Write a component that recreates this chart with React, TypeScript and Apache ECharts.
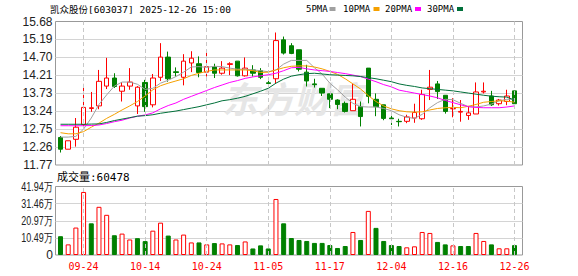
import React, { useEffect, useRef } from 'react';
import * as echarts from 'echarts';

const dates = [
  '09-19', '09-22', '09-23', '09-24', '09-25', '09-26', '09-29', '09-30', '10-09', '10-10',
  '10-13', '10-14', '10-15', '10-16', '10-17', '10-20', '10-21', '10-22', '10-23', '10-24',
  '10-27', '10-28', '10-29', '10-30', '10-31', '11-03', '11-04', '11-05', '11-06', '11-07',
  '11-10', '11-11', '11-12', '11-13', '11-14', '11-17', '11-18', '11-19', '11-20', '11-21',
  '12-01', '12-02', '12-03', '12-04', '12-05', '12-08', '12-09', '12-10', '12-11', '12-12',
  '12-15', '12-16', '12-17', '12-18', '12-19', '12-22', '12-23', '12-24', '12-25', '12-26',
];

const opens = [
  12.52, 12.20, 12.47, 12.87, 13.31, 13.38, 13.92, 14.14, 13.78, 13.92,
  13.38, 14.02, 13.41, 14.16, 14.71, 14.31, 14.16, 14.55, 14.53, 14.30,
  14.44, 14.27, 14.51, 14.60, 14.20, 14.36, 14.34, 14.01, 14.12, 15.18,
  15.02, 14.91, 14.30, 13.98, 13.86, 13.71, 13.54, 13.45, 13.25, 13.36,
  14.41, 13.56, 13.41, 13.05, 12.96, 12.96, 13.05, 13.03, 13.83, 13.98,
  13.67, 13.30, 13.21, 13.12, 13.16, 13.76, 13.65, 13.44, 13.50, 13.79,
];
const closes = [
  12.20, 12.43, 12.80, 13.34, 13.33, 14.05, 14.14, 13.91, 13.92, 14.03,
  13.89, 13.36, 14.14, 14.71, 14.12, 14.29, 14.60, 14.68, 14.29, 14.45,
  14.27, 14.41, 14.53, 14.20, 14.41, 14.27, 14.16, 13.99, 15.16, 14.82,
  14.81, 14.38, 14.06, 13.96, 13.73, 13.56, 13.42, 13.23, 13.56, 13.09,
  13.64, 13.36, 13.04, 13.03, 12.95, 13.08, 13.20, 13.69, 13.89, 13.77,
  13.23, 13.31, 13.23, 13.19, 13.76, 13.78, 13.41, 13.54, 13.65, 13.44,
];
const lows = [
  12.11, 12.20, 12.27, 12.80, 13.22, 13.29, 13.84, 13.87, 13.50, 13.82,
  13.16, 13.22, 13.34, 14.06, 14.04, 14.18, 13.94, 14.30, 14.16, 14.18,
  14.14, 14.23, 14.22, 14.18, 14.18, 14.18, 14.11, 13.95, 13.98, 14.78,
  14.79, 14.32, 13.91, 13.88, 13.65, 13.32, 13.29, 13.20, 13.25, 12.82,
  13.45, 13.10, 12.99, 12.86, 12.82, 12.91, 12.92, 13.00, 13.54, 13.57,
  13.17, 13.07, 12.95, 13.00, 13.16, 13.72, 13.38, 13.39, 13.40, 13.44,
];
const highs = [
  12.56, 12.43, 13.05, 13.98, 13.76, 14.36, 14.69, 14.27, 14.03, 14.41,
  13.92, 14.09, 14.25, 15.09, 14.86, 14.43, 14.79, 14.87, 14.73, 14.87,
  14.53, 14.60, 14.57, 14.60, 14.70, 14.49, 14.41, 14.16, 15.38, 15.27,
  15.09, 14.91, 14.50, 14.12, 13.86, 13.71, 13.56, 13.50, 13.98, 13.50,
  14.41, 13.72, 13.41, 13.11, 13.03, 13.14, 13.44, 13.82, 14.36, 14.06,
  13.67, 13.59, 13.54, 13.38, 14.02, 14.02, 13.79, 13.57, 13.82, 13.79,
];

// volume, in 万 (10k shares)
const volumes = [
  11.5, 6.5, 16.8, 38.6, 19.4, 29.5, 24.6, 12.1, 13.1, 9.5,
  10.3, 8.5, 14.9, 19.8, 11.9, 9.5, 12.5, 7.7, 7.7, 6.5,
  7.3, 7.1, 6.5, 6.1, 8.3, 4.0, 5.9, 4.0, 34.3, 19.4,
  10.4, 9.2, 8.6, 7.4, 7.4, 6.1, 4.3, 5.5, 14.1, 9.2,
  27.0, 16.6, 8.6, 6.1, 5.5, 4.7, 5.3, 14.1, 13.5, 8.0,
  6.5, 5.9, 5.5, 5.5, 13.5, 8.6, 6.5, 4.1, 4.1, 6.0478,
];

const ma5 = [
  12.53, 12.53, 12.55, 12.75, 13.05, 13.42, 13.68, 13.92, 14.03, 14.03,
  13.97, 13.83, 13.86, 14.00, 14.08, 14.18, 14.30, 14.44, 14.45, 14.43,
  14.46, 14.45, 14.41, 14.38, 14.38, 14.36, 14.34, 14.31, 14.36, 14.52,
  14.62, 14.62, 14.62, 14.42, 14.25, 14.00, 13.82, 13.62, 13.45, 13.36,
  13.35, 13.35, 13.31, 13.25, 13.14, 13.07, 13.04, 13.15, 13.33, 13.47,
  13.56, 13.55, 13.45, 13.36, 13.35, 13.38, 13.43, 13.52, 13.56, 13.56,
];
const ma10 = [
  12.65, 12.62, 12.62, 12.68, 12.80, 12.91, 13.04, 13.15, 13.27, 13.38,
  13.50, 13.65, 13.82, 13.93, 14.00, 14.06, 14.12, 14.21, 14.27, 14.32,
  14.36, 14.36, 14.36, 14.36, 14.36, 14.34, 14.29, 14.30, 14.36, 14.42,
  14.46, 14.47, 14.47, 14.44, 14.39, 14.32, 14.24, 14.12, 13.98, 13.84,
  13.66, 13.50, 13.38, 13.30, 13.25, 13.22, 13.21, 13.22, 13.27, 13.31,
  13.33, 13.34, 13.33, 13.37, 13.42, 13.48, 13.50, 13.52, 13.51, 13.48,
];
const ma20 = [
  12.84, 12.84, 12.84, 12.84, 12.845, 12.86, 12.90, 12.95, 12.99, 13.05,
  13.10, 13.135, 13.19, 13.30, 13.39, 13.46, 13.56, 13.64, 13.72, 13.80,
  13.88, 13.95, 14.02, 14.07, 14.13, 14.17, 14.20, 14.23, 14.27, 14.34,
  14.42, 14.43, 14.39, 14.36, 14.34, 14.32, 14.29, 14.26, 14.22, 14.18,
  14.11, 14.04, 13.96, 13.90, 13.81, 13.77, 13.73, 13.69, 13.65, 13.60,
  13.53, 13.47, 13.41, 13.36, 13.34, 13.33, 13.33, 13.33, 13.35, 13.38,
];
const ma30 = [
  12.88, 12.88, 12.88, 12.88, 12.885, 12.89, 12.93, 12.98, 13.02, 13.06,
  13.10, 13.115, 13.14, 13.18, 13.21, 13.24, 13.28, 13.32, 13.36, 13.41,
  13.46, 13.52, 13.55, 13.59, 13.64, 13.71, 13.78, 13.86, 14.00, 14.11,
  14.19, 14.23, 14.26, 14.27, 14.25, 14.23, 14.22, 14.21, 14.20, 14.18,
  14.15, 14.12, 14.08, 14.04, 13.98, 13.94, 13.91, 13.87, 13.85, 13.83,
  13.81, 13.79, 13.76, 13.73, 13.70, 13.67, 13.645, 13.63, 13.62, 13.54,
];

const priceTicks = ['11.77', '12.26', '12.75', '13.24', '13.73', '14.21', '14.70', '15.19', '15.68'];
const priceMin = 11.77;
const priceMax = 15.68;
const volTicks = ['0', '10.49万', '20.97万', '31.46万', '41.94万'];
const volMax = 41.94;
const labelDates = ['09-24', '10-14', '10-24', '11-05', '11-17', '12-04', '12-16', '12-26'];
const titleText = '凯众股份[603037] 2025-12-26 15:00';
const volTitleText = '成交量:60478';
const maNames = ['5PMA', '10PMA', '20PMA', '30PMA'];
const maColors = ['#a0a0a0', '#f5a000', '#ff00ff', '#00703a'];
const watermarkText = '东方财富';

const UP = '#ff0000';
const DOWN = '#008000';

// layout
const FL = 55.5;
const FW = 467;
const MT = 21.5;
const MH = 143.5;
const VT = 186.5;
const VH = 68.5;
const SLOT = 7.695;
const DL = 60.5 - SLOT / 2;
const DW = SLOT * dates.length;

const MONO = '"DejaVu Sans Mono", "Noto Sans CJK SC", monospace';
const SANS = '"Liberation Sans", Arial, sans-serif';

export default function App() {
  const ref = useRef<HTMLDivElement>(null);

  useEffect(() => {
    if (!ref.current) return;
    const chart = echarts.init(ref.current, null, { renderer: 'svg' });

    const maSeries = [ma5, ma10, ma20, ma30].map((d, k) => ({
      name: maNames[k],
      type: 'line',
      xAxisIndex: 1,
      yAxisIndex: 1,
      data: d,
      showSymbol: false,
      symbol: 'none',
      smooth: false,
      lineStyle: { width: 1, color: maColors[k] },
      itemStyle: { color: maColors[k] },
      z: 3,
      silent: true,
    }));

    const markLineCfg = {
      symbol: ['none', 'none'],
      silent: true,
      label: { show: false },
      lineStyle: { type: [4, 3], color: '#c8c8c8', width: 1 },
      emphasis: { disabled: true },
      data: labelDates.map((d) => ({ xAxis: d })),
    };

    const volData = volumes.map((v, i) => {
      const up = i > 0 && closes[i] > closes[i - 1];
      return {
        value: v,
        itemStyle: up
          ? { color: '#ffffff', borderColor: UP, borderWidth: 1 }
          : { color: DOWN, borderColor: DOWN, borderWidth: 1 },
      };
    });

    const graphics: any[] = [
      {
        type: 'text',
        x: 222,
        y: 97,
        z: 1,
        silent: true,
        style: {
          text: watermarkText,
          fontSize: 36,
          fontWeight: 'bold',
          fontStyle: 'italic',
          fontFamily: '"Noto Sans CJK SC", sans-serif',
          fill: '#e6e6e6',
          textVerticalAlign: 'middle',
        },
      },
      {
        type: 'text',
        x: 50,
        y: 9,
        z: 10,
        style: {
          text: titleText,
          fontSize: 9.5,
          fontFamily: MONO,
          fill: '#000',
          textVerticalAlign: 'middle',
        },
      },
      {
        type: 'text',
        x: 57,
        y: 177.5,
        z: 10,
        style: {
          text: volTitleText,
          fontSize: 11,
          fontFamily: MONO,
          fill: '#000',
          textVerticalAlign: 'middle',
        },
      },
    ];

    const legendX = [306, 343, 385, 427];
    const legendBoxX = [329.5, 373.5, 415, 457];
    maNames.forEach((n, k) => {
      graphics.push({
        type: 'text',
        x: legendX[k],
        y: 9,
        z: 10,
        style: { text: n, fontSize: 9, fontFamily: MONO, fill: '#000', textVerticalAlign: 'middle' },
      });
      graphics.push({
        type: 'rect',
        x: legendBoxX[k],
        y: 7,
        z: 10,
        shape: { width: 6, height: 4 },
        style: { fill: maColors[k] },
      });
    });

    volTicks.forEach((t, k) => {
      graphics.push({
        type: 'text',
        x: 53,
        y: VT + VH * (1 - k / (volTicks.length - 1)),
        z: 10,
        scaleX: k === 0 ? 1 : 0.75,
        style: {
          text: t,
          fontSize: 12,
          fontFamily: SANS,
          fill: '#222',
          textAlign: 'right',
          textVerticalAlign: 'middle',
        },
      });
    });

    const option: any = {
      animation: false,
      backgroundColor: '#ffffff',
      grid: [
        { left: FL, top: MT, width: FW, height: MH, show: true, borderColor: '#999', borderWidth: 1, backgroundColor: 'transparent', containLabel: false, outerBoundsMode: 'none' },
        { left: DL, top: MT, width: DW, height: MH, containLabel: false, outerBoundsMode: 'none' },
        { left: FL, top: VT, width: FW, height: VH, show: true, borderColor: '#999', borderWidth: 1, backgroundColor: 'transparent', containLabel: false, outerBoundsMode: 'none' },
        { left: DL, top: VT, width: DW, height: VH, containLabel: false, outerBoundsMode: 'none' },
      ],
      xAxis: [
        { gridIndex: 0, type: 'value', min: 0, max: 1, show: false },
        { gridIndex: 1, type: 'category', data: dates, boundaryGap: true, show: false },
        { gridIndex: 2, type: 'value', min: 0, max: 1, show: false },
        {
          gridIndex: 3,
          type: 'category',
          data: dates,
          boundaryGap: true,
          axisLine: { show: false },
          axisTick: { show: false },
          splitLine: { show: false },
          axisLabel: {
            interval: (i: number) => labelDates.includes(dates[i]),
            color: '#ff0000',
            fontFamily: MONO,
            fontSize: 10,
            margin: 6,
            hideOverlap: false,
          },
        },
      ],
      yAxis: [
        {
          gridIndex: 0,
          type: 'value',
          min: 0,
          max: priceTicks.length - 1,
          interval: 1,
          axisLine: { show: false },
          axisTick: { show: false },
          axisLabel: {
            formatter: (v: number) => priceTicks[Math.round(v)],
            fontSize: 12,
            fontFamily: SANS,
            color: '#222',
            margin: 3,
          },
          splitLine: { show: true, showMinLine: false, showMaxLine: false, lineStyle: { color: '#d4d4d4', width: 1 } },
        },
        { gridIndex: 1, type: 'value', min: priceMin, max: priceMax, show: false, splitLine: { show: false } },
        {
          gridIndex: 2,
          type: 'value',
          min: 0,
          max: volTicks.length - 1,
          interval: 1,
          axisLine: { show: false },
          axisTick: { show: false },
          axisLabel: { show: false },
          splitLine: { show: true, showMinLine: false, showMaxLine: false, lineStyle: { color: '#d4d4d4', width: 1 } },
        },
        { gridIndex: 3, type: 'value', min: 0, max: volMax, show: false, splitLine: { show: false } },
      ],
      series: [
        {
          type: 'line',
          xAxisIndex: 1,
          yAxisIndex: 1,
          data: dates.map(() => null),
          showSymbol: false,
          z: 1,
          silent: true,
          markLine: markLineCfg,
        },
        {
          type: 'candlestick',
          xAxisIndex: 1,
          yAxisIndex: 1,
          data: dates.map((_, i) => [opens[i], closes[i], lows[i], highs[i]]),
          barWidth: 5,
          z: 2,
          silent: true,
          itemStyle: {
            color: '#ffffff',
            color0: DOWN,
            borderColor: UP,
            borderColor0: DOWN,
            borderWidth: 1,
          },
        },
        ...maSeries,
        {
          type: 'line',
          xAxisIndex: 3,
          yAxisIndex: 3,
          data: dates.map(() => null),
          showSymbol: false,
          z: 1,
          silent: true,
          markLine: markLineCfg,
        },
        {
          type: 'bar',
          xAxisIndex: 3,
          yAxisIndex: 3,
          data: volData,
          barWidth: 5,
          z: 2,
          silent: true,
        },
      ],
      graphic: graphics,
    };

    chart.setOption(option);
    return () => chart.dispose();
  }, []);

  return (
    <div
      ref={ref}
      style={{ position: 'absolute', left: 0, top: 0, width: 578, height: 276, background: '#fff' }}
    />
  );
}
